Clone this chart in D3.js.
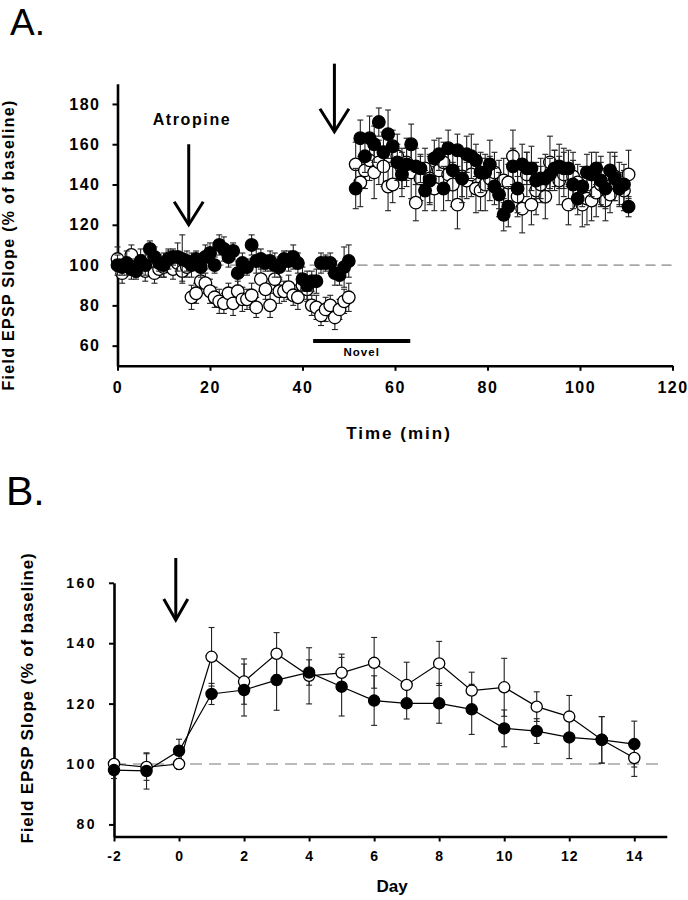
<!DOCTYPE html>
<html><head><meta charset="utf-8">
<script src="https://cdn.jsdelivr.net/npm/d3@7"></script>
<style>
body{margin:0;background:#fff}
svg{display:block}
text{font-family:"Liberation Sans",Arial,Helvetica,sans-serif}
</style>
</head><body>
<svg id="c" width="688" height="900"></svg>
<script>
// ---------- Panel A data ----------
const timeA = [0,1,2,3,4,5,6,7,8,9,10,11,12,13,14,15,16,17,18,19,20,21,22,23,24,25,26,27,28,29,30,31,32,33,34,35,36,37,38,39,40,41,42,43,44,45,46,47,48,49,50,
  51.5,52.5,53.5,54.5,55.5,56.5,57.5,58.5,59.5,60.5,61.5,62.5,63.5,64.5,65.5,66.5,67.5,68.5,69.5,70.5,71.5,72.5,73.5,74.5,75.5,76.5,77.5,78.5,79.5,80.5,
  81.5,82.5,83.5,84.5,85.5,86.5,87.5,88.5,89.5,90.5,91.5,92.5,93.5,94.5,95.5,96.5,97.5,98.5,99.5,100.5,101.5,102.5,103.5,104.5,105.5,106.5,107.5,108.5,109.5,110.5];
const filledA = [100,99,101,98,97,102,100,108,104,101,100,103,104,104,103,102,100,103,99,104,106,100,110,108,104,107,96,101,99,110,102,103,101,102,100,99,103,102,104,101,93,90,92,92,101,101,101,96,95,99,102,
  138,163,154,163,160,171,156,165,159,151,145,150,160,149,148,137,142,153,155,138,158,147,157,143,155,154,152,146,146,150,
  139,135,125,129,149,138,150,148,148,142,143,143,145,148,149,148,148,140,133,139,146,145,148,142,138,147,143,138,140,129];
const filledAErr = [5,4,6,5,4,6,5,4,5,4,6,5,4,7,12,5,6,4,5,6,5,4,5,6,5,4,6,5,4,5,6,5,4,5,6,5,4,5,6,5,6,7,5,6,5,4,5,6,5,10,8,
  10,9,8,11,9,7,10,12,8,9,11,8,10,9,7,10,12,9,8,11,9,10,8,12,9,11,8,10,9,12,
  9,11,8,10,9,12,10,8,11,9,10,12,8,9,11,10,9,12,8,10,9,11,8,12,10,9,11,8,10,5];
const openA = [103,96,100,105,99,101,97,100,96,98,99,103,98,101,97,99,84,86,92,91,87,84,82,81,86,81,87,83,83,85,79,93,88,80,93,87,87,89,85,84,90,88,80,79,75,78,80,74,78,82,84,
  150,141,147,152,146,151,149,139,140,154,148,151,146,131,143,148,143,138,147,151,145,140,130,144,142,145,138,137,140,143,
  146,140,142,141,154,134,128,145,130,137,140,134,151,147,142,145,130,144,141,130,133,132,136,140,132,135,144,140,137,145];
const openAErr = [6,5,4,5,5,4,5,4,5,4,5,4,5,4,5,5,6,5,6,5,6,5,6,5,5,6,5,6,5,6,5,6,5,6,5,6,5,6,5,6,5,6,5,6,5,6,5,6,5,6,7,
  11,12,9,10,13,11,10,12,9,11,10,12,13,9,11,10,12,11,9,10,13,11,12,10,9,11,12,10,13,11,
  10,12,11,9,13,10,12,11,10,12,9,11,13,10,12,11,10,12,9,11,13,10,12,11,10,9,12,11,10,12];
const ticksAX = [0,20,40,60,80,100,120];
const ticksAY = [60,80,100,120,140,160,180];

// ---------- Panel B data ----------
const daysB = [-2,-1,0,1,2,3,4,5,6,7,8,9,10,11,12,13,14];
const openB = [100,99,100,135.5,127.3,136.5,129.2,130.2,133.5,126.2,133.3,124.3,125.4,119,115.7,108,102];
const openBErr = [1.5,4.4,1.8,9.7,7.5,7,9.3,6.2,8.4,7.5,7.3,6.1,9.6,4.9,7,7.7,6.1];
const filledB = [98,97.7,104.4,123.2,124.5,127.8,130.3,125.6,121,120.1,120.1,118.1,111.8,110.9,108.8,108,106.6];
const filledBErr = [2.8,6,3.8,3.5,8.6,10,4.2,9.7,8.2,5.2,6.6,8.3,6.1,4.1,7,7.7,7.6];
const ticksBX = [-2,0,2,4,6,8,10,12,14];
const ticksBY = [80,100,120,140,160];

const svg = d3.select("#c");
const fmt = d => String(d);

function axisStyle(g, fs, ls){
  g.select(".domain").attr("stroke","#000").attr("stroke-width",2.6);
  g.selectAll(".tick line").attr("stroke","#000").attr("stroke-width",2);
  g.selectAll(".tick text").attr("font-size",fs).attr("font-weight","bold")
    .attr("fill","#000").style("letter-spacing",ls+"px").attr("font-family","'Liberation Sans',Arial,sans-serif");
}

function drawSeries(g, x, y, xs, vs, es, capW){
  const gs = g.append("g");
  xs.forEach((t,i)=>{
    const cx = x(t);
    gs.append("line").attr("x1",cx).attr("x2",cx).attr("y1",y(vs[i]-es[i])).attr("y2",y(vs[i]+es[i]))
      .attr("stroke","#222").attr("stroke-width",1.1);
    [vs[i]-es[i], vs[i]+es[i]].forEach(v=>{
      gs.append("line").attr("x1",cx-capW/2).attr("x2",cx+capW/2).attr("y1",y(v)).attr("y2",y(v))
        .attr("stroke","#222").attr("stroke-width",1.1);
    });
  });
  return gs;
}
function drawDots(g, x, y, xs, vs, fill, r){
  g.append("g").selectAll("circle").data(xs).join("circle")
    .attr("cx",d=>x(d)).attr("cy",(d,i)=>y(vs[i])).attr("r",r)
    .attr("fill",fill).attr("stroke","#000").attr("stroke-width",1.3);
}
function arrow(g, xp, y1, y2, hw, hh){
  g.append("line").attr("x1",xp).attr("x2",xp).attr("y1",y1).attr("y2",y2-1)
    .attr("stroke","#000").attr("stroke-width",3);
  g.append("path").attr("d",`M${xp-hw},${y2-hh} L${xp},${y2} L${xp+hw},${y2-hh}`)
    .attr("fill","none").attr("stroke","#000").attr("stroke-width",3).attr("stroke-linejoin","miter");
}

// ================= Panel A =================
{
  const x = d3.scaleLinear().domain([0,120]).range([117.5,672.5]);
  const y = d3.scaleLinear().domain([50,190]).range([365.8,83.8]);
  const g = svg.append("g");

  g.append("text").attr("x",10).attr("y",35).attr("font-size",37).text("A.");

  g.append("line").attr("x1",x(0)).attr("x2",x(120)).attr("y1",y(100)).attr("y2",y(100))
    .attr("stroke","#666").attr("stroke-width",1).attr("stroke-dasharray","10,6");

  const ax = g.append("g").attr("transform",`translate(0,${y(50)})`)
    .call(d3.axisBottom(x).tickValues(ticksAX).tickFormat(fmt).tickSize(5).tickSizeOuter(0).tickPadding(11));
  axisStyle(ax,16,1.5);
  const ay = g.append("g").attr("transform",`translate(${x(0)},0)`)
    .call(d3.axisLeft(y).tickValues(ticksAY).tickFormat(fmt).tickSize(5).tickSizeOuter(0).tickPadding(12));
  axisStyle(ay,16,1.5);

  drawSeries(g,x,y,timeA,openA,openAErr,6);
  drawDots(g,x,y,timeA,openA,"#fff",6.3);
  drawSeries(g,x,y,timeA,filledA,filledAErr,6);
  drawDots(g,x,y,timeA,filledA,"#000",6.3);

  g.append("line").attr("x1",x(42.3)).attr("x2",x(63.3)).attr("y1",341).attr("y2",341)
    .attr("stroke","#000").attr("stroke-width",4);
  g.append("text").attr("x",x(52.8)).attr("y",356).attr("text-anchor","middle")
    .attr("font-size",11.5).attr("font-weight","bold").style("letter-spacing","1px").text("Novel");

  arrow(g, x(15.4), y(160), y(120), 14.5, 23);
  arrow(g, x(46.9), y(200), y(166.2), 14.5, 23);
  g.append("text").attr("x",192).attr("y",125).attr("text-anchor","middle")
    .attr("font-size",16).attr("font-weight","bold").style("letter-spacing","1.6px").text("Atropine");

  g.append("text").attr("x",399).attr("y",439).attr("text-anchor","middle")
    .attr("font-size",17).attr("font-weight","bold").style("letter-spacing","2px").text("Time (min)");
  g.append("text").attr("transform","translate(14,245) rotate(-90)").attr("text-anchor","middle")
    .attr("font-size",16).attr("font-weight","bold").style("letter-spacing","1.3px")
    .text("Field  EPSP Slope (% of  baseline)");
}

// ================= Panel B =================
{
  const x = d3.scaleLinear().domain([-2,15]).range([114,666.8]);
  const y = d3.scaleLinear().domain([76,160]).range([836.5,582.8]);
  const g = svg.append("g");

  g.append("text").attr("x",6).attr("y",505).attr("font-size",41).text("B.");

  g.append("line").attr("x1",x(-2)).attr("x2",x(14.9)).attr("y1",y(100)).attr("y2",y(100))
    .attr("stroke","#777").attr("stroke-width",1).attr("stroke-dasharray","12,7");

  const ax = g.append("g").attr("transform",`translate(0,${y(76)})`)
    .call(d3.axisBottom(x).tickValues(ticksBX).tickFormat(fmt).tickSize(5).tickSizeOuter(0).tickPadding(10));
  axisStyle(ax,14,1);
  const ay = g.append("g").attr("transform",`translate(${x(-2)},0)`)
    .call(d3.axisLeft(y).tickValues(ticksBY).tickFormat(fmt).tickSize(5).tickSizeOuter(0).tickPadding(12));
  axisStyle(ay,14,2.5);

  const line = d3.line().x(d=>x(d[0])).y(d=>y(d[1]));
  drawSeries(g,x,y,daysB,openB,openBErr,6);
  g.append("path").attr("d",line(daysB.map((d,i)=>[d,openB[i]]))).attr("fill","none").attr("stroke","#000").attr("stroke-width",1.2);
  drawSeries(g,x,y,daysB,filledB,filledBErr,6);
  g.append("path").attr("d",line(daysB.map((d,i)=>[d,filledB[i]]))).attr("fill","none").attr("stroke","#000").attr("stroke-width",1.2);
  drawDots(g,x,y,daysB,openB,"#fff",5.6);
  drawDots(g,x,y,daysB,filledB,"#000",5.6);

  arrow(g, x(-0.1), y(168.2), y(147.7), 12, 21);

  g.append("text").attr("x",392).attr("y",892).attr("text-anchor","middle")
    .attr("font-size",17).attr("font-weight","bold").text("Day");
  g.append("text").attr("transform","translate(33,698) rotate(-90)").attr("text-anchor","middle")
    .attr("font-size",17).attr("font-weight","bold").style("letter-spacing","0.8px")
    .text("Field  EPSP Slope (% of  baseline)");
}
</script>
</body></html>
